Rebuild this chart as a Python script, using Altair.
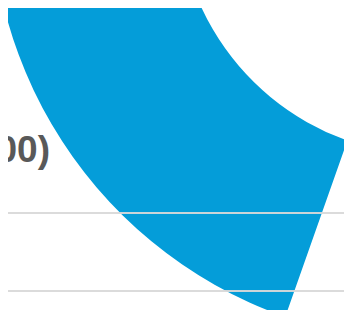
import altair as alt
import pandas as pd

# Donut slices (percent share); only the blue slice is visible in the crop
categories = ["Other", "Segment"]
values = [55.4, 44.6]
order_idx = [0, 1]
colors = ["transparent", "#049DD9"]

title_text = "Revenue (US$ 000)"

df = pd.DataFrame({"category": categories, "value": values, "idx": order_idx})

arc = alt.Chart(df).mark_arc(outerRadius=441, innerRadius=254, stroke=None).encode(
    theta=alt.Theta("value:Q", stack=True),
    order=alt.Order("idx:Q"),
    color=alt.Color("category:N", scale=alt.Scale(domain=categories, range=colors), legend=None),
    x=alt.value(424),
    y=alt.value(-107),
)

grid1 = alt.Chart(df).mark_rule(color="#d9d9d9", strokeWidth=1.5).encode(
    x=alt.value(-10), x2=alt.value(360), y=alt.value(205)
)
grid2 = alt.Chart(df).mark_rule(color="#d9d9d9", strokeWidth=1.5).encode(
    x=alt.value(-10), x2=alt.value(360), y=alt.value(283)
)

label = alt.Chart(pd.DataFrame({"t": [title_text]})).mark_text(
    align="right", baseline="alphabetic", fontSize=37, fontWeight="bold",
    font="Liberation Sans", color="#595959"
).encode(text="t:N", x=alt.value(42), y=alt.value(154))

chart = alt.layer(arc, grid1, grid2, label).properties(
    width=336, height=302, padding=0,
    autosize=alt.AutoSizeParams(type="none"),
).configure_view(stroke=None)

chart.save("out.html", embed_options={"renderer": "svg", "actions": False})
